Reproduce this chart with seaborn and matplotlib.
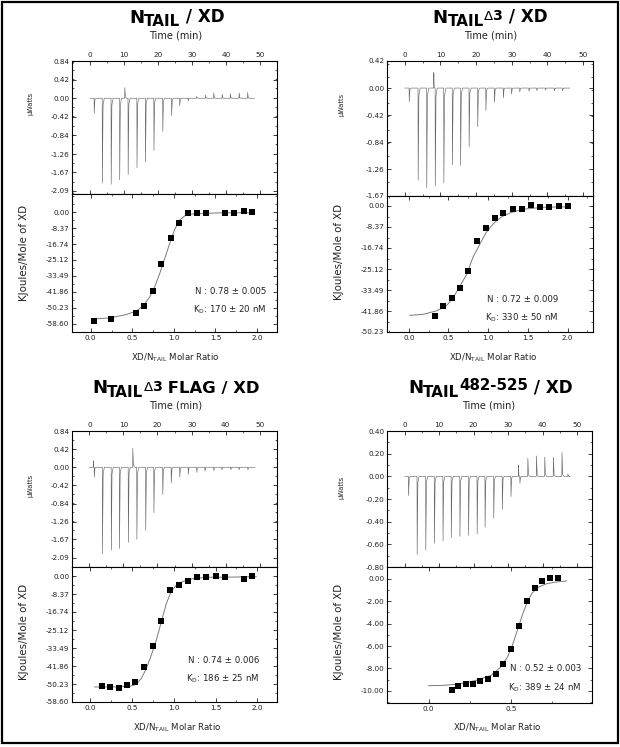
import matplotlib
matplotlib.use("Agg")
import matplotlib.pyplot as plt
from matplotlib.ticker import FixedLocator, MultipleLocator, AutoMinorLocator
from matplotlib.patches import Rectangle
import seaborn as sns

# ── Data ─────────────────────────────────────────────────────────────────────
# raw thermograms: injection times (min) and peak heights (µW)
tl_inj_t = [1.2, 3.6, 6.2, 8.7, 10.2, 11.2, 13.8, 16.3, 18.8, 21.4, 24.0, 26.4,
            28.9, 31.4, 34.0, 36.4, 38.9, 41.3, 43.9, 46.4]
tl_inj_h = [-0.34, -1.91, -1.94, -1.84, 0.24, -1.72, -1.57, -1.44, -1.18, -0.75,
            -0.39, -0.17, -0.06, 0.04, 0.07, 0.12, 0.09, 0.10, 0.12, 0.13]
tl_run_end = 48.5

tr_inj_t = [1.2, 3.7, 6.1, 8.1, 8.5, 10.9, 13.3, 15.6, 18.0, 20.4, 22.7, 25.1,
            27.6, 29.9, 32.2, 34.8, 37.0, 39.4, 41.9, 44.2]
tr_inj_h = [-0.21, -1.43, -1.55, 0.24, -1.52, -1.47, -1.19, -1.20, -0.91, -0.60,
            -0.35, -0.22, -0.15, -0.09, -0.06, -0.05, -0.04, -0.03, -0.04, -0.04]
tr_run_end = 46.3

bl_inj_t = [1.2, 1.4, 3.8, 6.4, 8.8, 11.4, 12.7, 13.9, 16.5, 18.9, 21.5, 24.0,
            26.5, 29.0, 31.5, 33.9, 36.5, 38.9, 41.5, 43.9, 46.5]
bl_inj_h = [0.15, -0.23, -2.00, -1.92, -1.88, -1.74, 0.44, -1.67, -1.46, -1.05,
            -0.63, -0.36, -0.23, -0.16, -0.12, -0.09, -0.08, -0.06, -0.06, -0.06, -0.06]
bl_run_end = 48.7

br_inj_t = [1.1, 3.6, 6.1, 8.6, 11.1, 13.5, 16.0, 18.5, 21.0, 23.3, 25.8, 28.3,
            30.8, 33.0, 33.4, 35.7, 38.2, 40.6, 43.1, 45.6, 47.3]
br_inj_h = [-0.17, -0.69, -0.65, -0.59, -0.57, -0.54, -0.53, -0.52, -0.51, -0.45,
            -0.37, -0.29, -0.18, 0.10, -0.06, 0.16, 0.18, 0.17, 0.17, 0.21, 0.02]
br_run_end = 47.7

# integrated heats (kJ/mol of XD) vs molar ratio
tl_ratio = [0.04, 0.24, 0.54, 0.64, 0.75, 0.85, 0.96, 1.06, 1.17, 1.28, 1.39, 1.61, 1.72, 1.84, 1.94]
tl_heat = [-57.2, -56.1, -52.8, -49.3, -41.3, -27.3, -13.5, -5.6, -0.4, -0.4, -0.5, -0.4, -0.2, 0.4, 0.0]
tl_fit_x = [0.05, 0.23, 0.43, 0.55, 0.63, 0.71, 0.77, 0.83, 0.89, 0.95, 1.01, 1.07, 1.13, 1.23, 1.51, 1.97]
tl_fit_y = [-56.1, -55.6, -53.8, -51.9, -49.3, -44.5, -39.2, -32.2, -24.3, -16.4, -9.0, -4.1, -1.9, -0.9, -0.35, -0.2]

tr_ratio = [0.33, 0.43, 0.54, 0.64, 0.75, 0.86, 0.97, 1.08, 1.19, 1.31, 1.42, 1.54, 1.65, 1.77, 1.89, 2.00]
tr_heat = [-44.0, -39.8, -36.6, -32.6, -26.0, -14.0, -8.8, -4.9, -2.8, -1.3, -1.2, 0.4, -0.5, -0.5, 0.1, -0.1]
tr_fit_x = [0.01, 0.18, 0.35, 0.48, 0.56, 0.64, 0.73, 0.81, 0.90, 0.98, 1.07, 1.17, 1.28, 1.44, 1.70, 2.03]
tr_fit_y = [-43.6, -43.2, -41.8, -39.6, -36.5, -32.2, -27.2, -20.3, -14.9, -10.3, -6.9, -4.3, -2.7, -1.3, -0.5, -0.3]

bl_ratio = [0.14, 0.24, 0.34, 0.44, 0.54, 0.64, 0.75, 0.85, 0.96, 1.06, 1.17, 1.28, 1.39, 1.50, 1.61, 1.84, 1.94]
bl_heat = [-51.2, -51.5, -52.1, -50.5, -49.3, -42.3, -32.4, -20.9, -6.5, -4.2, -2.2, -0.6, -0.3, 0.0, -0.3, -1.2, -0.2]
bl_fit_x = [0.05, 0.27, 0.47, 0.55, 0.61, 0.67, 0.73, 0.79, 0.85, 0.91, 0.97, 1.03, 1.11, 1.23, 1.39, 1.71, 1.99]
bl_fit_y = [-51.6, -51.6, -51.3, -50.4, -47.7, -43.1, -36.9, -29.9, -21.4, -12.9, -7.0, -4.3, -2.5, -1.2, -0.6, -0.5, -0.3]

br_ratio = [0.14, 0.18, 0.23, 0.27, 0.31, 0.36, 0.41, 0.45, 0.50, 0.55, 0.60, 0.65, 0.69, 0.74, 0.79]
br_heat = [-9.88, -9.58, -9.41, -9.41, -9.14, -8.90, -8.46, -7.63, -6.29, -4.18, -1.99, -0.83, -0.18, 0.09, 0.09]
br_fit_x = [0.00, 0.09, 0.19, 0.29, 0.38, 0.44, 0.48, 0.51, 0.54, 0.57, 0.60, 0.63, 0.67, 0.72, 0.78, 0.84]
br_fit_y = [-9.53, -9.50, -9.38, -9.05, -8.61, -7.86, -6.97, -5.93, -4.60, -3.26, -2.08, -1.28, -0.74, -0.45, -0.30, -0.21]

# tick values
raw_ticks_084 = [0.84, 0.42, 0.00, -0.42, -0.84, -1.26, -1.67, -2.09]
raw_ticks_042 = [0.42, 0.00, -0.42, -0.84, -1.26, -1.67]
raw_ticks_040 = [0.40, 0.20, 0.00, -0.20, -0.40, -0.60, -0.80]
heat_ticks_kj = [0.00, -8.37, -16.74, -25.12, -33.49, -41.86, -50.23, -58.60]
heat_ticks_2 = [0.00, -2.00, -4.00, -6.00, -8.00, -10.00]

fit_n = ["0.78 ± 0.005", "0.72 ± 0.009", "0.74 ± 0.006", "0.52 ± 0.003"]
fit_kd = ["170 ± 20 nM", "330 ± 50 nM", "186 ± 25 nM", "389 ± 24 nM"]

# ── Style ────────────────────────────────────────────────────────────────────
W, H = 620, 747
sns.set_theme(style="ticks")
plt.rcParams.update({
    "font.family": ["DejaVu Sans"],
    "axes.linewidth": 0.8,
    "axes.edgecolor": "black",
    "axes.facecolor": "white",
    "xtick.direction": "in",
    "ytick.direction": "in",
    "xtick.major.size": 2.6, "ytick.major.size": 2.6,
    "xtick.minor.size": 1.4, "ytick.minor.size": 1.4,
    "xtick.major.width": 0.6, "ytick.major.width": 0.6,
    "xtick.minor.width": 0.5, "ytick.minor.width": 0.5,
    "xtick.labelsize": 5.2, "ytick.labelsize": 5.2,
    "xtick.color": "#222222", "ytick.color": "#222222",
    "xtick.major.pad": 2.5, "ytick.major.pad": 2.0,
})
TRACE = "#6a6a6a"
FIT = "#7a7a7a"

fig = plt.figure(figsize=(W / 100, H / 100), dpi=100)


def box(x0, y0, x1, y1):
    return [x0 / W, 1 - y1 / H, (x1 - x0) / W, (y1 - y0) / H]


def spike_trace(times, heights, t_end):
    # thin injection peaks: sharp excursion, quick return to baseline
    pairs = sorted(zip(times, heights))
    t, y = [0.0], [0.0]
    for i, (ti, hi) in enumerate(pairs):
        gap = pairs[i + 1][0] - ti if i + 1 < len(pairs) else 1.0
        k = min(1.0, gap / 0.7)
        t += [ti, ti + 0.05 * k, ti + 0.25 * k, ti + 0.6 * k]
        y += [0.0, hi, 0.08 * hi, 0.0]
    t.append(t_end)
    y.append(0.0)
    return t, y


def style_axes(ax):
    ax.tick_params(which="both", top=True, right=True, bottom=True, left=True)
    for s in ax.spines.values():
        s.set_visible(True)
        s.set_color("black")
        s.set_linewidth(0.8)


def draw_raw(ax, inj_t, inj_h, t_end, xlim, ylim, yticks):
    t, y = spike_trace(inj_t, inj_h, t_end)
    sns.lineplot(x=t, y=y, ax=ax, sort=False, estimator=None,
                 color=TRACE, linewidth=0.45)
    ax.set_xlim(*xlim)
    ax.set_ylim(*ylim)
    ax.xaxis.set_major_locator(MultipleLocator(10))
    ax.xaxis.set_minor_locator(MultipleLocator(5))
    ax.yaxis.set_major_locator(FixedLocator(yticks))
    ax.set_yticklabels([f"{v:.2f}" if abs(v) > 1e-9 else "0.00" for v in yticks])
    ax.yaxis.set_minor_locator(AutoMinorLocator(2))
    ax.xaxis.tick_top()
    style_axes(ax)
    ax.tick_params(axis="x", which="both", labeltop=True, labelbottom=False)
    ax.set_xlabel("")
    ax.set_ylabel("")


def draw_iso(ax, rx, hy, fx, fy, xlim, ylim, yticks, xstep):
    sns.lineplot(x=fx, y=fy, ax=ax, sort=False, estimator=None,
                 color=FIT, linewidth=0.7)
    sns.scatterplot(x=rx, y=hy, ax=ax, marker="s", s=18, color="black",
                    linewidth=0, zorder=3)
    ax.set_xlim(*xlim)
    ax.set_ylim(*ylim)
    ax.xaxis.set_major_locator(MultipleLocator(xstep))
    ax.xaxis.set_minor_locator(MultipleLocator(xstep / 2))
    ax.xaxis.set_major_formatter(matplotlib.ticker.FormatStrFormatter("%.1f"))
    ax.yaxis.set_major_locator(FixedLocator(yticks))
    ax.set_yticklabels([f"{v:.2f}" if abs(v) > 1e-9 else "0.00" for v in yticks])
    ax.yaxis.set_minor_locator(AutoMinorLocator(2))
    style_axes(ax)
    ax.tick_params(axis="x", which="both", labeltop=False, labelbottom=True)
    ax.set_xlabel("")
    ax.set_ylabel("")


def draw_title(cx, base, parts):
    r = fig.canvas.get_renderer()
    objs = []
    for s, size, dy, weight in parts:
        t = fig.text(0, 0, s, fontsize=size, fontweight=weight, color="black",
                     va="baseline", ha="left", family="DejaVu Sans")
        objs.append((t, dy))
    widths = [t.get_window_extent(r).width for t, _ in objs]
    x = cx - sum(widths) / 2
    for (t, dy), w in zip(objs, widths):
        t.set_position((x / W, 1 - (base - dy) / H))
        x += w


def ftext(x, y, s, **kw):
    return fig.text(x / W, 1 - y / H, s, **kw)


panels = [
    dict(raw=(72, 61, 277, 194), iso=(72, 194, 277, 332),
         inj=(tl_inj_t, tl_inj_h, tl_run_end), rxlim=(-5.3, 55.1), rylim=(-2.16, 0.84),
         rticks=raw_ticks_084,
         iso_data=(tl_ratio, tl_heat, tl_fit_x, tl_fit_y), ixlim=(-0.225, 2.24),
         iylim=(-63.0, 9.6), iticks=heat_ticks_kj, xstep=0.5,
         ann=(0.946, 0.277, 0.142),
         title=(177, 22.7, "tail"), tlabel=(176, 35), uw=(30.8, 103.5),
         kj=(24.3, 252.5), xl=(175, 360.7)),
    dict(raw=(387, 61, 593, 196), iso=(387, 196, 593, 332),
         inj=(tr_inj_t, tr_inj_h, tr_run_end), rxlim=(-5.0, 52.8), rylim=(-1.675, 0.42),
         rticks=raw_ticks_042,
         iso_data=(tr_ratio, tr_heat, tr_fit_x, tr_fit_y), ixlim=(-0.274, 2.32),
         iylim=(-50.23, 3.98), iticks=heat_ticks_kj[:-1], xstep=0.5,
         ann=(0.83, 0.221, 0.088),
         title=(490, 22.7, "d3"), tlabel=(491, 35), uw=(341.5, 104),
         kj=(338.7, 251.7), xl=(493.3, 360)),
    dict(raw=(72, 431, 277, 567), iso=(72, 567, 277, 702),
         inj=(bl_inj_t, bl_inj_h, bl_run_end), rxlim=(-5.1, 55.1), rylim=(-2.31, 0.84),
         rticks=raw_ticks_084,
         iso_data=(bl_ratio, bl_heat, bl_fit_x, bl_fit_y), ixlim=(-0.22, 2.237),
         iylim=(-58.6, 4.19), iticks=heat_ticks_kj, xstep=0.5,
         ann=(0.912, 0.287, 0.150),
         title=(176, 393.3, "flag"), tlabel=(176, 405), uw=(30.8, 485),
         kj=(24.3, 631.7), xl=(177, 730.7)),
    dict(raw=(387, 431, 592, 567), iso=(387, 567, 592, 703),
         inj=(br_inj_t, br_inj_h, br_run_end), rxlim=(-5.1, 54.35), rylim=(-0.80, 0.40),
         rticks=raw_ticks_040,
         iso_data=(br_ratio, br_heat, br_fit_x, br_fit_y), ixlim=(-0.253, 0.994),
         iylim=(-11.07, 1.03), iticks=heat_ticks_2, xstep=0.5,
         ann=(0.949, 0.235, 0.090),
         title=(490.5, 393.3, "482"), tlabel=(489, 405), uw=(341.5, 487),
         kj=(338.7, 631.7), xl=(497, 730.7)),
]

title_parts = {
    "tail": [("N", 13.1, 0, "bold"), ("TAIL", 10.9, -3.3, "bold"), (" / XD", 12.1, 0.8, "bold")],
    "d3": [("N", 13.1, 0, "bold"), ("TAIL", 10.9, -3.3, "bold"), ("Δ", 9.6, 2.2, "normal"),
           ("3", 10.2, 2.2, "bold"), (" / XD", 12.1, 0.8, "bold")],
    "flag": [("N", 13.1, 0, "bold"), ("TAIL", 10.9, -3.3, "bold"), ("Δ", 9.6, 2.2, "normal"),
             ("3", 10.2, 2.2, "bold"), (" FLAG / XD", 11.8, 0.3, "bold")],
    "482": [("N", 13.1, 0, "bold"), ("TAIL", 10.9, -3.3, "bold"), ("482-525", 10.8, 3.0, "bold"),
            (" / XD", 12.1, 0.8, "bold")],
}

for i, p in enumerate(panels):
    ax_raw = fig.add_axes(box(*p["raw"]))
    ax_iso = fig.add_axes(box(*p["iso"]))
    draw_raw(ax_raw, *p["inj"], p["rxlim"], p["rylim"], p["rticks"])
    draw_iso(ax_iso, *p["iso_data"], p["ixlim"], p["iylim"], p["iticks"], p["xstep"])

    ax_x, n_y, k_y = p["ann"]
    ax_iso.text(ax_x, n_y, f"N : {fit_n[i]}", transform=ax_iso.transAxes,
                ha="right", va="baseline", fontsize=6.2, color="#222222")
    ax_iso.text(ax_x, k_y, "K$_\\mathregular{D}$: " + fit_kd[i], transform=ax_iso.transAxes,
                ha="right", va="baseline", fontsize=6.2, color="#222222")

    cx, base, key = p["title"]
    draw_title(cx, base, title_parts[key])
    ftext(*p["tlabel"], "Time (min)", ha="center", va="center", fontsize=7.0, color="#222222")
    ftext(*p["uw"], "µWatts", ha="center", va="center", rotation=90, fontsize=4.8,
          color="#222222")
    ftext(*p["kj"], "KJoules/Mole of XD", ha="center", va="center", rotation=90,
          fontsize=7.4, color="#222222")
    ftext(*p["xl"], "XD/N$_\\mathregular{TAIL}$ Molar Ratio", ha="center", va="baseline",
          fontsize=6.2, color="#222222")

# outer frame around the whole figure
fig.patches.append(Rectangle((1.5 / W, 1 - 743 / H), 616 / W, 741.5 / H,
                             transform=fig.transFigure, fill=False,
                             edgecolor="black", linewidth=1.6))

fig.savefig("out.png", dpi=100, facecolor="white")
